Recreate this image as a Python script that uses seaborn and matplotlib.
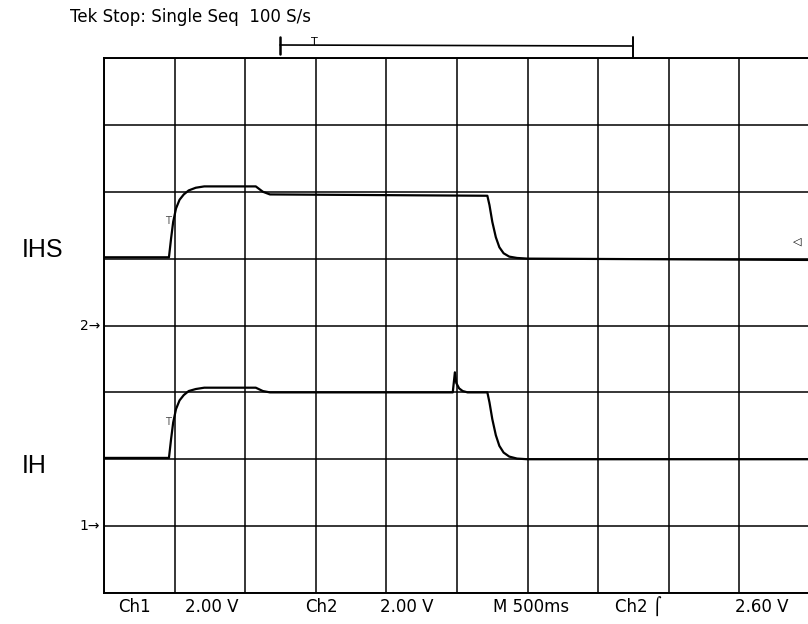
import numpy as np
import pandas as pd
import matplotlib
matplotlib.use("Agg")
import matplotlib.pyplot as plt
import seaborn as sns

# scope trace readings, in screen divisions (x: 0-10, y: 0-8)
ihs_t = [0, 0.92, 0.95, 0.98, 1.02, 1.07, 1.13, 1.2, 1.3, 1.42, 2.15, 2.25, 2.35,
         5.43, 5.46, 5.5, 5.55, 5.6, 5.66, 5.74, 5.85, 6.0, 10]
ihs_v = [5.02, 5.02, 5.3, 5.55, 5.75, 5.88, 5.96, 6.02, 6.06, 6.08, 6.08, 6.0, 5.96,
         5.94, 5.8, 5.55, 5.32, 5.17, 5.08, 5.03, 5.01, 5.0, 4.98]

ih_t = [0, 0.92, 0.95, 0.98, 1.02, 1.07, 1.13, 1.2, 1.3, 1.42, 2.15, 2.25, 2.35,
        4.94, 4.97, 4.99, 5.03, 5.08, 5.15, 5.43, 5.46, 5.5, 5.55, 5.6, 5.66,
        5.74, 5.85, 6.0, 10]
ih_v = [2.02, 2.02, 2.3, 2.55, 2.75, 2.88, 2.96, 3.02, 3.05, 3.07, 3.07, 3.02, 3.0,
        3.0, 3.3, 3.14, 3.06, 3.02, 3.0, 3.0, 2.85, 2.6, 2.36, 2.2, 2.1,
        2.04, 2.01, 2.0, 2.0]

trace_names = ["IHS", "IH"]
ref_marks = ["2", "1"]
ref_levels = [4, 1]
footer = ["Ch1", "2.00 V", "Ch2", "2.00 V", "M 500ms", "Ch2 \u2320", "2.60 V"]
footer_x = [118, 185, 305, 380, 493, 615, 735]
header = "Tek Stop: Single Seq  100 S/s"

df = pd.concat([
    pd.DataFrame({"t": ihs_t, "v": ihs_v, "trace": "IHS"}),
    pd.DataFrame({"t": ih_t, "v": ih_v, "trace": "IH"}),
])

sns.set_style("white")
plt.rcParams["font.family"] = ["DejaVu Sans"]
plt.rcParams["text.color"] = "black"

W, H = 808, 624
fig = plt.figure(figsize=(W / 100, H / 100), dpi=100)
# grid area: x 104..810 px, y 58..593 px
ax = fig.add_axes([104 / W, 1 - 593 / H, 706 / W, 535 / H])

sns.lineplot(data=df, x="t", y="v", units="trace", estimator=None,
             color="black", linewidth=1.6, sort=False, ax=ax)

ax.set_xlim(0, 10)
ax.set_ylim(0, 8)
ax.set_xticks(range(11))
ax.set_yticks(range(9))
ax.grid(True, color="black", linewidth=1.1)
ax.tick_params(length=0, labelleft=False, labelbottom=False)
ax.set_xlabel("")
ax.set_ylabel("")
for s in ax.spines.values():
    s.set_color("black")
    s.set_linewidth(1.4)
ax.set_axisbelow(True)

# trigger marker near rising edge
ax.text(0.9, 5.57, "T", fontsize=7, ha="center", va="center", color="0.3")
ax.text(0.9, 2.55, "T", fontsize=7, ha="center", va="center", color="0.3")

# header and trigger position bracket
fig.text(70 / W, 1 - 17 / H, header, fontsize=12, ha="left", va="center")
fig.add_artist(plt.Line2D([280 / W, 633 / W], [1 - 45 / H, 1 - 46 / H],
                          color="black", linewidth=1.2))
fig.add_artist(plt.Line2D([280 / W, 280 / W], [1 - 37 / H, 1 - 54 / H],
                          color="black", linewidth=1.8))
fig.add_artist(plt.Line2D([633 / W, 633 / W], [1 - 37 / H, 1 - 57 / H],
                          color="black", linewidth=1.4))
fig.text(314 / W, 1 - 42 / H, "T", fontsize=8, ha="center", va="center")

# channel reference markers
for m, lvl in zip(ref_marks, ref_levels):
    y = 1 - (593 - lvl * 535 / 8) / H
    fig.text(100 / W, y, m + "\u2192", fontsize=10, ha="right", va="center")

# trigger level marker on right
fig.text(797 / W, 1 - 242 / H, "\u25C1", fontsize=8, ha="center", va="center")

# trace labels
fig.text(22 / W, 1 - 250 / H, trace_names[0], fontsize=18, ha="left",
         va="center", family="Liberation Sans")
fig.text(22 / W, 1 - 466 / H, trace_names[1], fontsize=18, ha="left",
         va="center", family="Liberation Sans")

# footer
for lab, x in zip(footer, footer_x):
    fig.text(x / W, 1 - 607 / H, lab, fontsize=12, ha="left", va="center")

fig.savefig("out.png", dpi=100)
